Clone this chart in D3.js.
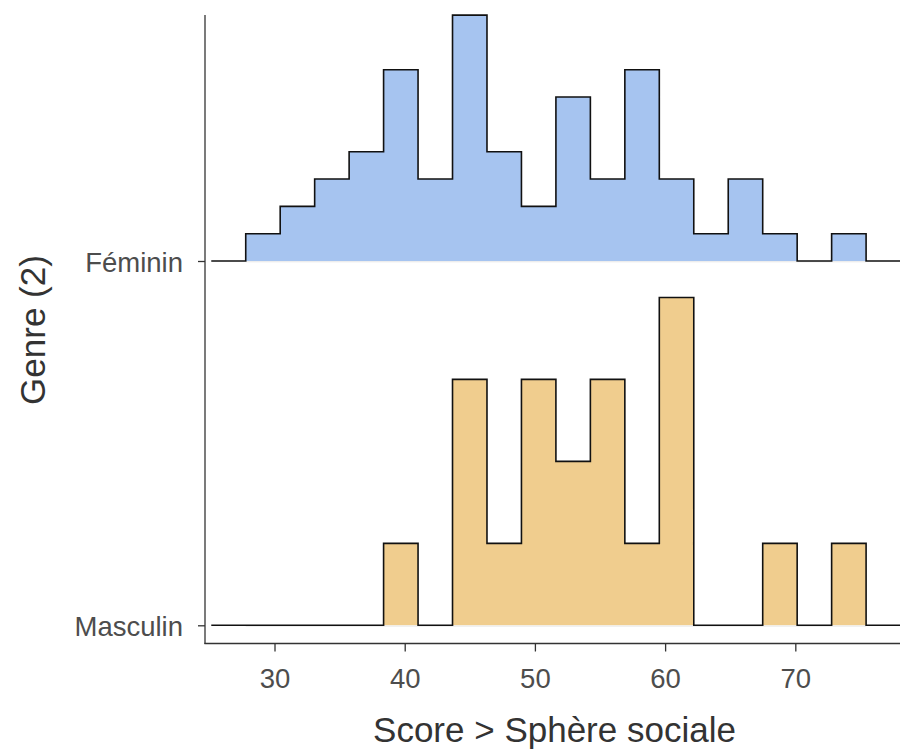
<!DOCTYPE html>
<html>
<head>
<meta charset="utf-8">
<script src="https://cdn.jsdelivr.net/npm/d3@7"></script>
<style>
  html, body { margin: 0; padding: 0; background: #fff; }
  svg { display: block; font-family: "Liberation Sans", Arial, Helvetica, sans-serif; }
</style>
</head>
<body>
<svg id="chart" width="900" height="751"></svg>
<script>
// ---- Data ----
const categories = ["Masculin", "Féminin"];
const binStart = 27.79;      // left edge of first bin (score units)
const binWidth = 2.647;      // bin width (score units)
const countsFeminin  = [1, 2, 3, 4, 7, 3, 9, 4, 2, 6, 3, 7, 3, 1, 3, 1, 0, 1];
const countsMasculin = [0, 0, 0, 0, 1, 0, 3, 1, 3, 2, 3, 1, 4, 0, 0, 1, 0, 1];
const xTicks = [30, 40, 50, 60, 70];
const fillColors = { "Féminin": "#a6c4f0", "Masculin": "#f0cd8e" };
const xLabel = "Score > Sphère sociale";
const yLabel = "Genre (2)";

// ---- Layout ----
const W = 900, H = 751;
const plot = { left: 205, right: 900, top: 15, bottom: 643.5 };
const svg = d3.select("#chart");

const x = d3.scaleLinear().domain([24.662, 78.04]).range([plot.left, plot.right]);
const y = d3.scalePoint().domain(categories).range([625.3, 261]);
const spacing = y("Masculin") - y("Féminin");

const series = [
  { name: "Féminin", counts: countsFeminin },
  { name: "Masculin", counts: countsMasculin }
].map(s => {
  const n = d3.sum(s.counts);
  return { ...s, dens: s.counts.map(c => c / (n * binWidth)) };
});
const maxDens = d3.max(series, s => d3.max(s.dens));
const h = d3.scaleLinear().domain([0, maxDens]).range([0, 0.9 * spacing]);

svg.append("defs").append("clipPath").attr("id", "clip")
  .append("rect").attr("x", plot.left).attr("y", 0)
  .attr("width", plot.right - plot.left).attr("height", plot.bottom);

const g = svg.append("g").attr("clip-path", "url(#clip)");

series.forEach(s => {
  const base = y(s.name);
  const nb = s.counts.length;
  const pts = s.dens.map((d, i) => ({ x: binStart + i * binWidth, d }));
  const fillPts = pts.concat([{ x: binStart + nb * binWidth, d: 0 }]);
  const area = d3.area()
    .x(p => x(p.x)).y0(base).y1(p => base - h(p.d))
    .curve(d3.curveStepAfter);
  g.append("path").datum(fillPts).attr("d", area)
    .attr("fill", fillColors[s.name]).attr("stroke", "none");
  g.append("line")
    .attr("x1", x(binStart)).attr("x2", x(binStart + nb * binWidth))
    .attr("y1", base + 0.8).attr("y2", base + 0.8)
    .attr("stroke", "#e6e6e6").attr("stroke-width", 1);

  const linePts = [{ x: binStart - binWidth, d: 0 }]
    .concat(pts)
    .concat([{ x: binStart + nb * binWidth, d: 0 }, { x: binStart + (nb + 1) * binWidth, d: 0 }]);
  const line = d3.line()
    .x(p => x(p.x)).y(p => base - h(p.d))
    .curve(d3.curveStepAfter);
  g.append("path").datum(linePts).attr("d", line)
    .attr("fill", "none").attr("stroke", "#111").attr("stroke-width", 1.6)
    .attr("stroke-linejoin", "miter");
});

// ---- Axes ----
const axisColor = "#333";
const tickFont = 27.5;
const xAxis = d3.axisBottom(x).tickValues(xTicks).tickSize(8).tickPadding(17).tickSizeOuter(0);
const gx = svg.append("g").attr("transform", `translate(0,${plot.bottom})`).call(xAxis);
gx.select(".domain").remove();
gx.append("line").attr("x1", plot.left - 0.6).attr("x2", plot.right).attr("y1", 0).attr("y2", 0)
  .attr("stroke", axisColor).attr("stroke-width", 1.3);
gx.selectAll(".tick line").attr("stroke", axisColor).attr("stroke-width", 1.3);
gx.selectAll(".tick text").attr("fill", "#4d4d4d").attr("font-size", tickFont)
  .attr("font-family", "'Liberation Sans', Arial, sans-serif");

const yAxis = d3.axisLeft(y).tickSize(7).tickPadding(15).tickSizeOuter(0);
const gy = svg.append("g").attr("transform", `translate(${plot.left},0)`).call(yAxis);
gy.select(".domain").remove();
gy.append("line").attr("x1", 0).attr("x2", 0).attr("y1", plot.top).attr("y2", plot.bottom + 0.6)
  .attr("stroke", axisColor).attr("stroke-width", 1.3);
gy.selectAll(".tick line").attr("stroke", axisColor).attr("stroke-width", 1.3);
gy.selectAll(".tick text").attr("fill", "#4d4d4d").attr("font-size", tickFont)
  .attr("dy", "0.37em")
  .attr("font-family", "'Liberation Sans', Arial, sans-serif");

// ---- Titles ----
svg.append("text").attr("x", (plot.left + plot.right) / 2 + 2).attr("y", 742)
  .attr("text-anchor", "middle").attr("font-size", 35).attr("fill", "#333")
  .text(xLabel);
svg.append("text")
  .attr("transform", `translate(45,330) rotate(-90)`)
  .attr("text-anchor", "middle").attr("font-size", 35).attr("fill", "#333")
  .text(yLabel);
</script>
</body>
</html>
